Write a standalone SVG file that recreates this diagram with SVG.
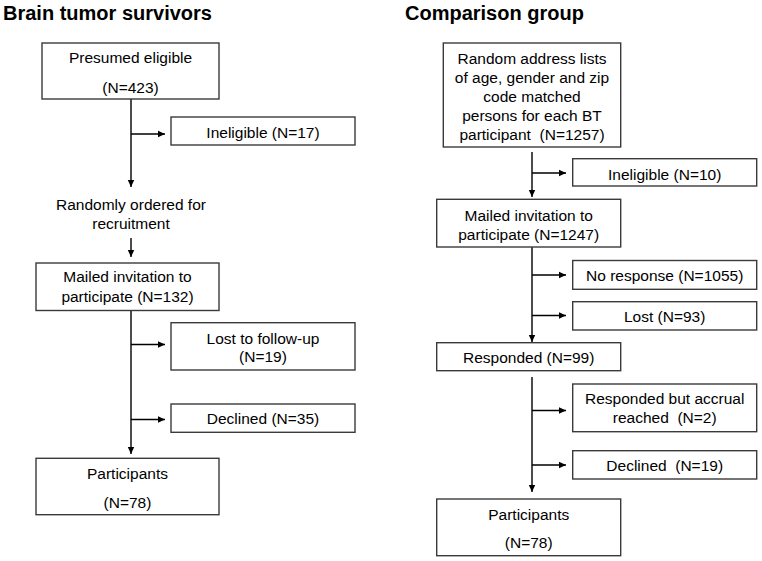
<svg xmlns="http://www.w3.org/2000/svg" width="762" height="561" viewBox="0 0 762 561">
<style>
.box{fill:#fff;stroke:#3a3a3a;stroke-width:1.4}
.t{font-family:"Liberation Sans",Arial,sans-serif;font-size:15.5px;fill:#000;text-anchor:middle}
.h{font-family:"Liberation Sans",Arial,sans-serif;font-size:20px;font-weight:bold;fill:#000}
.ln{stroke:#000;stroke-width:1.4;fill:none}
.ar{stroke:#000;stroke-width:1.4;fill:none;marker-end:url(#ah)}
</style>
<defs>
<marker id="ah" markerUnits="userSpaceOnUse" markerWidth="8" markerHeight="8" refX="7" refY="4" orient="auto">
<path d="M0,0.8 L7,4 L0,7.2 Z" fill="#000"/>
</marker>
</defs>
<rect width="762" height="561" fill="#fff"/>
<text class="h" x="3" y="20">Brain tumor survivors</text>
<text class="h" x="405" y="20">Comparison group</text>

<g id="connectors">
<line class="ar" x1="131" y1="99" x2="131" y2="187"/>
<line class="ar" x1="131" y1="134" x2="165" y2="134"/>
<line class="ar" x1="131" y1="238" x2="131" y2="257"/>
<line class="ar" x1="131" y1="311" x2="131" y2="454"/>
<line class="ar" x1="131" y1="344.5" x2="165" y2="344.5"/>
<line class="ar" x1="131" y1="419.5" x2="165" y2="419.5"/>
<line class="ar" x1="532" y1="152" x2="532" y2="197"/>
<line class="ar" x1="532" y1="173" x2="566" y2="173"/>
<line class="ar" x1="532" y1="247" x2="532" y2="342"/>
<line class="ar" x1="532" y1="275" x2="566" y2="275"/>
<line class="ar" x1="532" y1="315.5" x2="566" y2="315.5"/>
<line class="ar" x1="532" y1="377" x2="532" y2="492"/>
<line class="ar" x1="532" y1="410.5" x2="566" y2="410.5"/>
<line class="ar" x1="532" y1="465" x2="566" y2="465"/>
</g>

<g id="presumed">
<rect class="box" x="42" y="43" width="177" height="56"/>
<text class="t" x="130.5" y="63">Presumed eligible</text>
<text class="t" x="130.5" y="93">(N=423)</text>
</g>
<g id="ineligible17">
<rect class="box" x="171" y="117" width="184" height="28"/>
<text class="t" x="263" y="137.5">Ineligible (N=17)</text>
</g>
<g id="random-order">
<text class="t" x="131" y="210">Randomly ordered for</text>
<text class="t" x="131" y="228.5">recruitment</text>
</g>
<g id="mailed132">
<rect class="box" x="36" y="263" width="183" height="47.5"/>
<text class="t" x="127.5" y="282">Mailed invitation to</text>
<text class="t" x="127.5" y="302">participate (N=132)</text>
</g>
<g id="lost19">
<rect class="box" x="171" y="322.7" width="184" height="47.3"/>
<text class="t" x="263" y="343.5">Lost to follow-up</text>
<text class="t" x="263" y="362">(N=19)</text>
</g>
<g id="declined35">
<rect class="box" x="171" y="404" width="184" height="28.3"/>
<text class="t" x="263" y="424">Declined (N=35)</text>
</g>
<g id="participants-bt">
<rect class="box" x="36" y="458.3" width="183" height="56.4"/>
<text class="t" x="127.5" y="479">Participants</text>
<text class="t" x="127.5" y="507.5">(N=78)</text>
</g>

<g id="random-lists">
<rect class="box" x="443.3" y="43" width="177.4" height="104"/>
<text class="t" x="532" y="64">Random address lists</text>
<text class="t" x="532" y="83">of age, gender and zip</text>
<text class="t" x="532" y="102">code matched</text>
<text class="t" x="532" y="121">persons for each BT</text>
<text class="t" x="532" y="140" xml:space="preserve">participant  (N=1257)</text>
</g>
<g id="ineligible10">
<rect class="box" x="572.7" y="158.7" width="184" height="27.3"/>
<text class="t" x="664.7" y="179.5">Ineligible (N=10)</text>
</g>
<g id="mailed1247">
<rect class="box" x="436.7" y="199.3" width="184" height="47.7"/>
<text class="t" x="528.7" y="221">Mailed invitation to</text>
<text class="t" x="528.7" y="239.5">participate (N=1247)</text>
</g>
<g id="noresponse">
<rect class="box" x="572.7" y="260.5" width="184" height="28.8"/>
<text class="t" x="664.7" y="281">No response (N=1055)</text>
</g>
<g id="lost93">
<rect class="box" x="572.7" y="301.7" width="184" height="28.3"/>
<text class="t" x="664.7" y="321.5">Lost (N=93)</text>
</g>
<g id="responded99">
<rect class="box" x="436.7" y="342.7" width="184" height="28"/>
<text class="t" x="528.7" y="362.5">Responded (N=99)</text>
</g>
<g id="accrual">
<rect class="box" x="572.7" y="384" width="184" height="47.7"/>
<text class="t" x="664.7" y="404">Responded but accrual</text>
<text class="t" x="664.7" y="422.5" xml:space="preserve">reached  (N=2)</text>
</g>
<g id="declined19">
<rect class="box" x="572.7" y="450.7" width="184" height="28.3"/>
<text class="t" x="664.7" y="470.5" xml:space="preserve">Declined  (N=19)</text>
</g>
<g id="participants-cg">
<rect class="box" x="436.7" y="499" width="184" height="56.7"/>
<text class="t" x="528.7" y="520">Participants</text>
<text class="t" x="528.7" y="548">(N=78)</text>
</g>
</svg>
